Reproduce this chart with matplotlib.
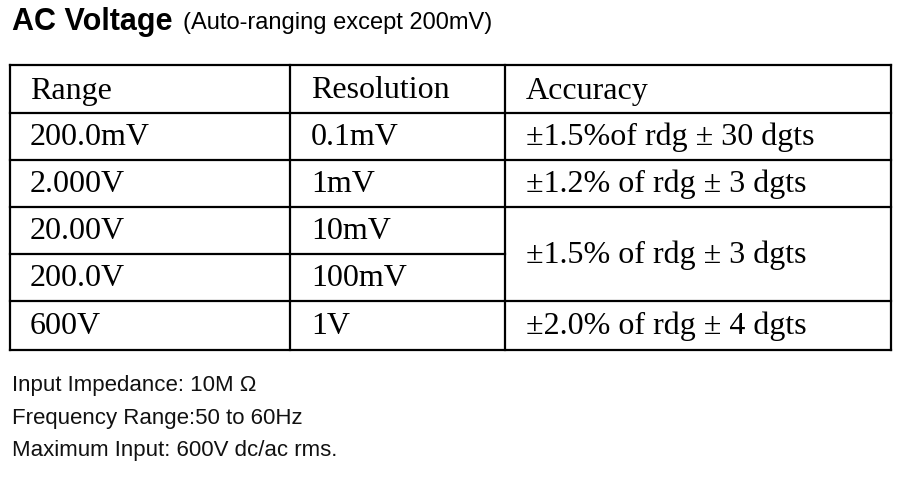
import matplotlib
matplotlib.use("Agg")
import matplotlib.pyplot as plt

title = "AC Voltage"
subtitle = "(Auto-ranging except 200mV)"
headers = ["Range", "Resolution", "Accuracy"]
ranges = ["200.0mV", "2.000V", "20.00V", "200.0V", "600V"]
resolutions = ["0.1mV", "1mV", "10mV", "100mV", "1V"]
U = "\u00b1"
accuracies = [U + "1.5%of rdg " + U + " 30 dgts",
              U + "1.2% of rdg " + U + " 3 dgts",
              U + "1.5% of rdg " + U + " 3 dgts",
              U + "2.0% of rdg " + U + " 4 dgts"]
acc_rows = [(0, 0), (1, 1), (2, 3), (4, 4)]
notes = ["Input Impedance: 10M \u03a9",
         "Frequency Range:50 to 60Hz",
         "Maximum Input: 600V dc/ac rms."]

fig = plt.figure(figsize=(9.16, 4.81), dpi=100)
ax = fig.add_axes([0, 0, 1, 1])
ax.set_xlim(0, 916); ax.set_ylim(481, 0); ax.axis('off')

ax.text(12, 22, title, fontsize=22, fontweight='bold',
        family=['Liberation Sans Narrow', 'Liberation Sans'], va='center')
ax.text(183, 23, subtitle, fontsize=17, family='Liberation Sans', va='center')

cols = [10, 290, 505, 891]
rows = [66, 114, 161, 208, 255, 302, 351]
lw = 1.6
for x in cols:
    ax.plot([x, x], [rows[0], rows[-1]], color='black', lw=lw)
for i, y in enumerate(rows):
    xe = cols[2] if i == 4 else cols[3]
    ax.plot([cols[0], xe], [y, y], color='black', lw=lw)

fs = 23
tx = [30, 311, 526]
for j, h in enumerate(headers):
    ax.text(tx[j], 91, h, fontsize=fs, family='Liberation Serif', va='center')
for i in range(len(ranges)):
    yc = (rows[i + 1] + rows[i + 2]) / 2
    ax.text(tx[0], yc, ranges[i], fontsize=fs, family='Liberation Serif', va='center')
    ax.text(tx[1], yc, resolutions[i], fontsize=fs, family='Liberation Serif', va='center')
for (a, b), s in zip(acc_rows, accuracies):
    yc = (rows[a + 1] + rows[b + 2]) / 2
    ax.text(tx[2], yc, s, fontsize=fs, family='Liberation Serif', va='center')

for k, n in enumerate(notes):
    ax.text(12, 386 + 32.5 * k, n, fontsize=16, family='Liberation Sans',
            va='center', color='#111111')

fig.savefig("out.png", dpi=100)
